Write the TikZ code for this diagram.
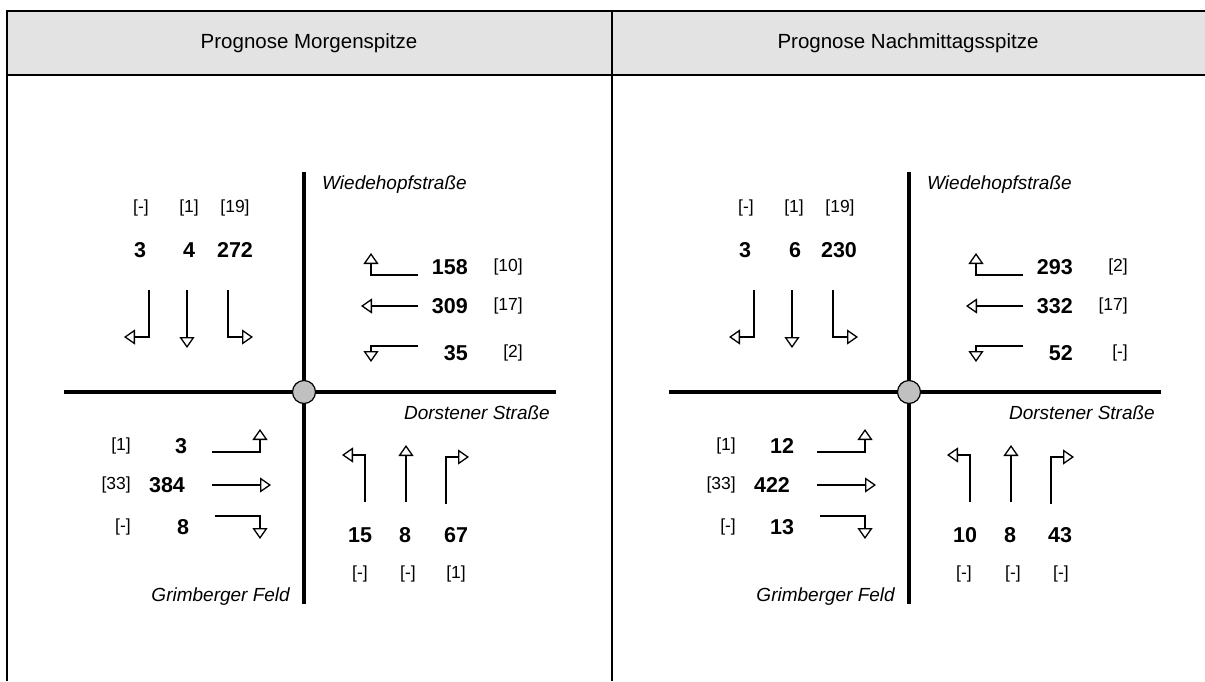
\documentclass[tikz,border=0pt]{standalone}
\usepackage{fontspec}
\setmainfont{Liberation Sans}
\usetikzlibrary{arrows.meta}
\definecolor{hdr}{HTML}{E3E3E3}
\definecolor{knot}{HTML}{C0C0C0}
\tikzset{
  frame/.style={line width=2pt},
  road/.style={line width=3.4pt},
  turn/.style={line width=1.4pt,-{Triangle[open,length=11pt,width=15pt,line width=1.3pt]}},
  vol/.style={inner sep=0pt,font=\fontsize{21.5}{21.5}\selectfont\bfseries},
  cnt/.style={inner sep=0pt,font=\fontsize{17.5}{17.5}\selectfont},
  street/.style={inner sep=0pt,font=\fontsize{19}{19}\selectfont\itshape},
  head/.style={inner sep=0pt,font=\fontsize{20.5}{20.5}\selectfont},
  knotstyle/.style={draw,fill=knot,circle,minimum size=23pt,inner sep=0pt,line width=1.2pt},
}
\newcommand\junction[1]{%
  \draw[road] (304,172) -- (304,604);
  \draw[road] (64,392) -- (556,392);
  \node[knotstyle] (#1k) at (304,392) {};
  \node[street,anchor=west] (#1wh) at (322,185) {Wiedehopfstraße};
  \node[street,anchor=east] (#1ds) at (550,413) {Dorstener Straße};
  \node[street,anchor=east] (#1gf) at (290,597) {Grimberger Feld};
  % north approach
  \draw[turn] (149,290) -- (149,337) -- (124,337);
  \draw[turn] (187,290) -- (187,348);
  \draw[turn] (228,290) -- (228,337) -- (253,337);
  % east approach
  \draw[turn] (418,275) -- (371,275) -- (371,253);
  \draw[turn] (418,306) -- (361,306);
  \draw[turn] (418,346) -- (371,346) -- (371,362);
  % west approach
  \draw[turn] (212,452) -- (260,452) -- (260,429);
  \draw[turn] (212,485) -- (271,485);
  \draw[turn] (215,516) -- (260,516) -- (260,539);
  % south approach
  \draw[turn] (365,502) -- (365,455) -- (342,455);
  \draw[turn] (406,502) -- (406,445);
  \draw[turn] (446,504) -- (446,457) -- (469,457);
}
\begin{document}
\begin{tikzpicture}[x=1pt,y=-1pt]
\useasboundingbox (0,0) rectangle (1205,681);
\fill[hdr] (6,11) rectangle (1205,75);
\draw[frame] (6,11) -- (1205,11);
\draw[frame] (6,75) -- (1205,75);
\draw[frame] (7,10) -- (7,681);
\draw[frame] (612,10) -- (612,681);
\node[head] (h1) at (309,43) {Prognose Morgenspitze};
\node[head] (h2) at (908,43) {Prognose Nachmittagsspitze};

% ---------- left panel ----------
\junction{a}
\node[cnt] (an1) at (141,208) {[-]};
\node[cnt] (an2) at (189,208) {[1]};
\node[cnt] (an3) at (235,208) {[19]};
\node[vol] (av1) at (140,250) {3};
\node[vol] (av2) at (189,250) {4};
\node[vol] (av3) at (235,250) {272};
\node[vol,anchor=east] (ae1) at (468,267) {158};
\node[vol,anchor=east] (ae2) at (468,306) {309};
\node[vol,anchor=east] (ae3) at (468,353) {35};
\node[cnt,anchor=east] (ac1) at (523,267) {[10]};
\node[cnt,anchor=east] (ac2) at (523,306) {[17]};
\node[cnt,anchor=east] (ac3) at (523,353) {[2]};
\node[cnt,anchor=east] (aw1) at (131,446) {[1]};
\node[cnt,anchor=east] (aw2) at (131,485) {[33]};
\node[cnt,anchor=east] (aw3) at (131,527) {[-]};
\node[vol] (ax1) at (181,446) {3};
\node[vol] (ax2) at (167,485) {384};
\node[vol] (ax3) at (183,527) {8};
\node[vol] (as1) at (360,535) {15};
\node[vol] (as2) at (405,535) {8};
\node[vol] (as3) at (456,535) {67};
\node[cnt] (at1) at (360,574) {[-]};
\node[cnt] (at2) at (408,574) {[-]};
\node[cnt] (at3) at (456,574) {[1]};

% ---------- right panel ----------
\begin{scope}[xshift=605pt]
\junction{b}
\node[cnt] (bn1) at (141,208) {[-]};
\node[cnt] (bn2) at (189,208) {[1]};
\node[cnt] (bn3) at (235,208) {[19]};
\node[vol] (bv1) at (140,250) {3};
\node[vol] (bv2) at (190,250) {6};
\node[vol] (bv3) at (234,250) {230};
\node[vol,anchor=east] (be1) at (468,267) {293};
\node[vol,anchor=east] (be2) at (468,306) {332};
\node[vol,anchor=east] (be3) at (468,353) {52};
\node[cnt,anchor=east] (bc1) at (523,267) {[2]};
\node[cnt,anchor=east] (bc2) at (523,306) {[17]};
\node[cnt,anchor=east] (bc3) at (523,353) {[-]};
\node[cnt,anchor=east] (bw1) at (131,446) {[1]};
\node[cnt,anchor=east] (bw2) at (131,485) {[33]};
\node[cnt,anchor=east] (bw3) at (131,527) {[-]};
\node[vol] (bx1) at (177,446) {12};
\node[vol] (bx2) at (167,485) {422};
\node[vol] (bx3) at (177,527) {13};
\node[vol] (bs1) at (360,535) {10};
\node[vol] (bs2) at (405,535) {8};
\node[vol] (bs3) at (455,535) {43};
\node[cnt] (bt1) at (359,574) {[-]};
\node[cnt] (bt2) at (408,574) {[-]};
\node[cnt] (bt3) at (456,574) {[-]};
\end{scope}
\end{tikzpicture}
\end{document}
